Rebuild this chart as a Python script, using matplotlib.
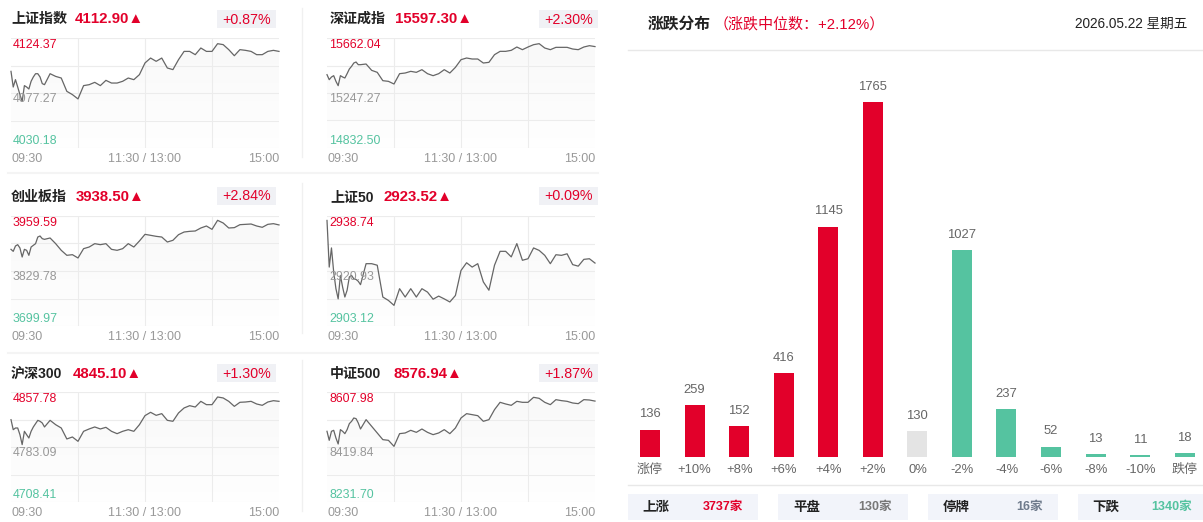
import numpy as np
import matplotlib
matplotlib.use('Agg')
import matplotlib.pyplot as plt
from matplotlib.patches import Rectangle

plt.rcParams['font.family'] = ['Liberation Sans', 'Noto Sans CJK SC', 'DejaVu Sans']
plt.rcParams['text.kerning_factor'] = 16

W, H = 1203, 522
RED = '#e2002a'
GREEN = '#55c3a0'
GRAY = '#999999'

# trading minutes since the open (lunch break removed)
minutes = list(range(0, 30, 2)) + list(range(30, 241, 5))

names = ['上证指数', '深证成指', '创业板指', '上证50', '沪深300', '中证500']
prices = ['4112.90', '15597.30', '3938.50', '2923.52', '4845.10', '8576.94']
changes = ['+0.87%', '+2.30%', '+2.84%', '+0.09%', '+1.30%', '+1.87%']
highs = [4124.37, 15662.04, 3959.59, 2938.74, 4857.78, 8607.98]
mids = [4077.27, 15247.27, 3829.78, 2920.93, 4783.09, 8419.84]
lows = [4030.18, 14832.50, 3699.97, 2903.12, 4708.41, 8231.70]
time_labels = ['09:30', '11:30 / 13:00', '15:00']

sh_index = [4095.8, 4082.4, 4088.7, 4082.4, 4075.9, 4070.1, 4083.6, 4082.4, 4080.7, 4087.3, 4091.0, 4093.8, 4093.8, 4091.0, 4085.3,
            4084.4, 4093.8, 4091.5, 4090.1, 4078.7, 4075.9, 4072.2, 4083.6, 4084.4, 4086.4, 4083.6, 4088.1, 4085.8, 4085.8, 4087.3,
            4090.1, 4088.7, 4093.0, 4103.0, 4107.2, 4104.4, 4107.2, 4098.7, 4097.3, 4105.8, 4112.9, 4112.9, 4110.1, 4115.8, 4112.9,
            4112.9, 4119.5, 4118.7, 4114.4, 4109.2, 4114.4, 4113.8, 4112.9, 4110.1, 4110.1, 4112.9, 4113.8, 4112.9]
sz_index = [15385.5, 15347.8, 15367.9, 15377.9, 15335.2, 15302.5, 15377.9, 15367.9, 15360.4, 15393.0, 15428.2, 15448.3, 15473.4, 15481.0, 15460.9,
            15460.9, 15465.9, 15418.1, 15403.1, 15340.2, 15335.2, 15315.1, 15393.0, 15398.0, 15410.6, 15403.1, 15423.2, 15393.0, 15377.9, 15393.0,
            15423.2, 15398.0, 15440.8, 15498.6, 15511.2, 15503.6, 15503.6, 15473.4, 15478.5, 15536.3, 15561.4, 15561.4, 15569.0, 15594.1, 15574.0,
            15594.1, 15611.7, 15619.3, 15586.6, 15574.0, 15591.6, 15591.6, 15591.6, 15579.0, 15574.0, 15594.1, 15604.2, 15597.3]
cyb_index = [3880.9, 3876.2, 3888.8, 3891.9, 3884.1, 3862.8, 3880.9, 3878.6, 3866.8, 3886.4, 3890.4, 3894.3, 3910.0, 3912.4, 3906.1,
             3904.5, 3907.7, 3894.3, 3878.6, 3866.8, 3868.3, 3860.5, 3882.5, 3886.4, 3894.3, 3891.9, 3894.3, 3880.9, 3878.6, 3882.5,
             3894.3, 3886.4, 3900.6, 3916.3, 3914.0, 3911.6, 3910.0, 3898.2, 3902.2, 3915.5, 3921.8, 3923.4, 3924.2, 3931.3, 3936.0,
             3928.1, 3949.4, 3943.1, 3931.3, 3932.1, 3939.1, 3939.9, 3940.7, 3936.0, 3932.9, 3939.9, 3941.5, 3938.5]
sz50_index = [2937.3, 2922.2, 2928.4, 2920.6, 2915.2, 2911.9, 2919.5, 2915.7, 2912.5, 2914.7, 2919.0, 2919.5, 2918.4, 2918.2, 2917.6,
              2916.5, 2923.3, 2923.3, 2922.8, 2912.5, 2911.4, 2909.8, 2915.2, 2912.5, 2915.2, 2912.5, 2915.2, 2914.1, 2911.8, 2912.8,
              2911.9, 2910.9, 2913.0, 2921.1, 2923.6, 2922.2, 2923.3, 2917.4, 2914.7, 2922.8, 2927.3, 2927.3, 2925.5, 2929.8, 2924.4,
              2924.9, 2928.4, 2927.6, 2926.0, 2923.3, 2926.2, 2926.0, 2926.5, 2923.0, 2922.5, 2924.7, 2924.9, 2923.5]
hs300_index = [4820.2, 4806.6, 4808.9, 4808.9, 4799.8, 4786.3, 4804.4, 4799.8, 4795.3, 4804.4, 4810.3, 4814.8, 4819.3, 4818.0, 4815.7,
               4810.3, 4819.3, 4813.4, 4808.9, 4794.0, 4796.7, 4790.8, 4804.4, 4807.6, 4810.3, 4807.6, 4809.8, 4804.4, 4801.2, 4804.4,
               4806.6, 4804.4, 4813.4, 4825.7, 4830.2, 4826.1, 4828.4, 4819.3, 4818.0, 4829.3, 4836.1, 4839.2, 4837.4, 4845.1, 4840.6,
               4840.6, 4851.0, 4849.7, 4845.1, 4838.3, 4843.8, 4844.2, 4845.1, 4841.5, 4839.7, 4844.2, 4846.0, 4845.1]
zz500_index = [8473.5, 8442.7, 8473.5, 8476.9, 8450.7, 8430.1, 8479.2, 8473.5, 8465.5, 8479.2, 8499.7, 8507.7, 8519.1, 8516.8, 8502.0,
               8481.4, 8513.4, 8490.6, 8467.8, 8445.0, 8442.7, 8422.1, 8465.5, 8467.8, 8476.9, 8470.0, 8481.4, 8470.0, 8462.1, 8467.8,
               8479.2, 8465.5, 8484.9, 8519.1, 8533.9, 8530.5, 8527.0, 8507.7, 8513.4, 8547.6, 8572.7, 8567.0, 8562.4, 8576.1, 8572.7,
               8572.7, 8589.8, 8586.3, 8572.7, 8564.7, 8581.8, 8578.4, 8576.1, 8570.4, 8568.1, 8581.8, 8580.6, 8576.9]
series = [sh_index, sz_index, cyb_index, sz50_index, hs300_index, zz500_index]

categories = ['涨停', '+10%', '+8%', '+6%', '+4%', '+2%', '0%', '-2%', '-4%', '-6%', '-8%', '-10%', '跌停']
counts = [136, 259, 152, 416, 1145, 1765, 130, 1027, 237, 52, 13, 11, 18]
bar_colors = [RED] * 6 + ['#e4e4e4'] + [GREEN] * 6

summary_labels = ['上涨', '平盘', '停牌', '下跌']
summary_values = ['3737家', '130家', '16家', '1340家']
summary_colors = [RED, '#777777', '#6f7b8c', GREEN]

fig = plt.figure(figsize=(W / 100, H / 100), dpi=100)


def px_axes(x0, y0, x1, y1, **kw):
    return fig.add_axes([x0 / W, 1 - y1 / H, (x1 - x0) / W, (y1 - y0) / H], **kw)


# overlay in pixel coordinates for texts and page furniture
page = px_axes(0, 0, W, H, zorder=5)
page.set_xlim(0, W)
page.set_ylim(H, 0)
page.axis('off')
page.patch.set_visible(False)


def label(x, y, s, size, color='#333333', ha='left', weight='normal'):
    page.text(x, y + 1, s, fontsize=size * 0.72, color=color, ha=ha, va='center', fontweight=weight)


left_x = [11, 327]
top_y = [38, 216, 392]
head_y = [18, 196, 373]
box_y = [10, 187, 364]
price_x = [75, 395, 76, 384, 73, 393]
sep_y = [(8, 157), (183, 333), (360, 511)]

for i in range(6):
    col = i % 2
    row = i // 2
    x0 = left_x[col]
    x1 = x0 + 268
    y0 = top_y[row]
    y1 = y0 + 110

    ax = px_axes(x0, y0, x1, y1)
    ax.set_xlim(0, 240)
    ax.set_ylim(lows[i], highs[i])
    for s in ax.spines.values():
        s.set_visible(False)
    ax.tick_params(length=0, labelbottom=False, labelleft=False)
    ax.set_xticks([60, 120, 180])
    ax.set_yticks([lows[i], (lows[i] + mids[i]) / 2, mids[i], (mids[i] + highs[i]) / 2, highs[i]])
    ax.grid(True, color='#ececec', lw=0.8)

    # soft gradient under the line
    shade = np.linspace(0.975, 0.998, 60)[:, None]
    img = ax.imshow(np.dstack([shade, shade, shade]), extent=[0, 240, lows[i], highs[i]],
                    aspect='auto', origin='upper', zorder=0)
    area = ax.fill_between(minutes, series[i], lows[i], color='none')
    img.set_clip_path(area.get_paths()[0], transform=ax.transData)
    ax.plot(minutes, series[i], color='#666666', lw=0.9, zorder=3, clip_on=False)

    label(x0 + (3 if col else 0), head_y[row], names[i], 14, '#222222', weight='bold')
    label(price_x[i], head_y[row], prices[i] + '▲', 15, RED, weight='bold')
    bx0 = 217 if col == 0 else 539
    page.add_patch(Rectangle((bx0, box_y[row]), 59, 18, color='#f0f1f5', lw=0))
    label(bx0 + 29.5, box_y[row] + 8.5, changes[i], 14.3, RED, ha='center')

    label(x0 + 2, y0 + 6, f'{highs[i]:.2f}', 12.4, RED)
    label(x0 + 2, y0 + 60, f'{mids[i]:.2f}', 12.4, GRAY)
    label(x0 + 2, y0 + 102, f'{lows[i]:.2f}', 12.4, GREEN)

    label(x0, y1 + 10, time_labels[0], 12.5, GRAY)
    label(x0 + 134, y1 + 10, time_labels[1], 12.5, GRAY, ha='center')
    label(x1, y1 + 10, time_labels[2], 12.5, GRAY, ha='right')

for a, b in sep_y:
    page.plot([302, 302], [a, b], color='#f0f0f0', lw=1)
for y in [173, 353]:
    page.plot([8, 598], [y, y], color='#f4f4f4', lw=1.5)

# distribution panel
bars = px_axes(627.7, 50, 1203, 457)
bars.set_xlim(-0.5, 12.41)
bars.set_ylim(0, 2024)
bars.axis('off')
xs = np.arange(len(categories))
bars.bar(xs, counts, width=0.449, color=bar_colors)
for x, v in zip(xs, counts):
    bars.annotate(str(v), (x, v), xytext=(0, 11), textcoords='offset points', ha='center', va='center',
                  fontsize=9.4, color='#666666')
for i, c in enumerate(categories):
    label(650 + 44.58 * i, 469, c, 13, '#666666', ha='center')

label(648, 23, '涨跌分布', 15.8, '#222222', weight='bold')
label(714, 23, '\uff08涨跌中位数\uff1a+2.12%\uff09', 15, RED)
label(1187, 23, '2026.05.22 星期五', 13.6, '#222222', ha='right')
page.plot([628, 1203], [49.5, 49.5], color='#e8e8e8', lw=1)
page.plot([628, 1203], [485, 485], color='#e8e8e8', lw=1)

box_left = [628, 778, 928, 1078]
box_right = [758, 908, 1058, 1203]
text_mid = [656, 807, 956, 1106]
value_end = [743, 892, 1043, 1192]
for i in range(4):
    page.add_patch(Rectangle((box_left[i], 494), box_right[i] - box_left[i], 26, color='#f2f4fa', lw=0))
    label(text_mid[i], 505.5, summary_labels[i], 13.5, '#222222', ha='center', weight='bold')
    label(value_end[i], 505.5, summary_values[i], 12.5, summary_colors[i], ha='right', weight='bold')

fig.savefig('out.png', dpi=100, facecolor='white')
